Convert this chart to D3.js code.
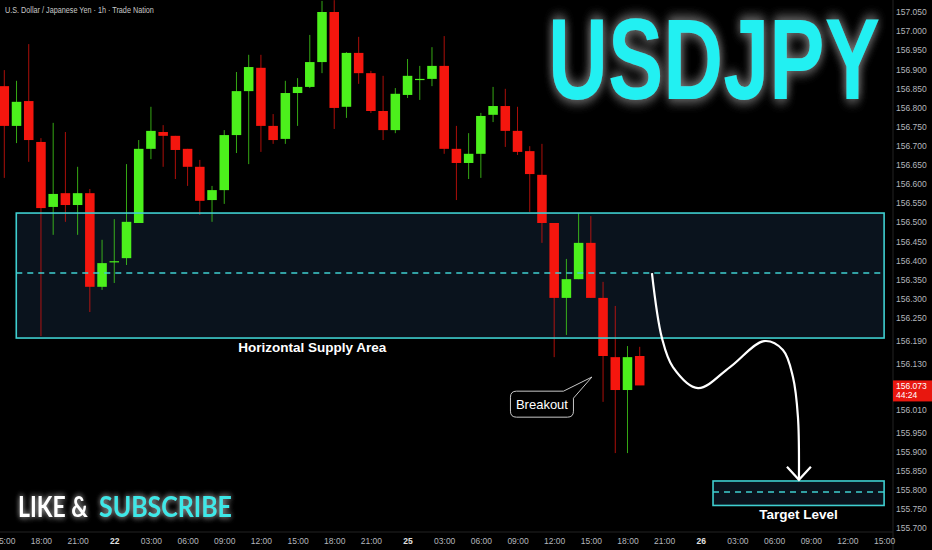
<!DOCTYPE html>
<html><head><meta charset="utf-8">
<script src="https://cdn.jsdelivr.net/npm/d3@7"></script>
<style>html,body{margin:0;padding:0;background:#000;overflow:hidden}</style>
</head><body><svg id="c" width="932" height="550"></svg>
<script>
// ---- data (USDJPY 1h candles, index 0 = 21st 15:00) ----
const open  = [156.856,156.752,156.817,156.710,156.540,156.576,156.545,156.576,156.331,156.396,156.406,156.498,156.692,156.736,156.726,156.692,156.645,156.558,156.584,156.728,156.843,156.904,156.752,156.718,156.838,156.854,156.919,157.050,156.802,156.943,156.890,156.791,156.741,156.833,156.872,156.875,156.909,156.692,156.655,156.679,156.781,156.804,156.739,156.686,156.624,156.498,156.302,156.351,156.446,156.302,156.147,156.061,156.150];
const high  = [156.898,156.870,156.966,156.720,156.760,156.736,156.645,156.587,156.454,156.508,156.652,156.715,156.802,156.754,156.726,156.692,156.663,156.595,156.741,156.893,156.938,156.938,156.783,156.870,156.877,156.990,157.079,157.081,156.945,156.985,156.896,156.883,156.851,156.927,156.909,156.958,156.987,156.752,156.733,156.786,156.854,156.849,156.802,156.699,156.705,156.498,156.404,156.524,156.516,156.344,156.281,156.176,156.174];
const low   = [156.616,156.707,156.658,156.202,156.467,156.501,156.467,156.265,156.323,156.341,156.388,156.498,156.665,156.645,156.613,156.595,156.519,156.501,156.548,156.681,156.652,156.684,156.705,156.705,156.752,156.851,156.890,156.744,156.773,156.862,156.786,156.715,156.733,156.825,156.820,156.856,156.679,156.558,156.613,156.616,156.762,156.697,156.676,156.527,156.446,156.147,156.205,156.351,156.302,156.030,155.896,155.896,156.074];
const close = [156.752,156.815,156.715,156.537,156.574,156.545,156.576,156.331,156.393,156.398,156.501,156.692,156.739,156.726,156.689,156.645,156.556,156.584,156.728,156.843,156.906,156.752,156.715,156.838,156.854,156.919,157.050,156.799,156.943,156.890,156.791,156.741,156.836,156.883,156.875,156.909,156.692,156.655,156.679,156.778,156.804,156.739,156.684,156.626,156.498,156.302,156.351,156.446,156.302,156.150,156.061,156.147,156.073];

const xTickIndex  = [0,3,6,9,12,15,18,21,24,27,30,33,36,39,42,45,48,51,54,57,60,63,66,69,72];
const xTickLabels = ["15:00","18:00","21:00","22","03:00","06:00","09:00","12:00","15:00","18:00","21:00","25","03:00","06:00","09:00","12:00","15:00","18:00","21:00","26","03:00","06:00","09:00","12:00","15:00"];
const yTickValues = [157.05,157.0,156.95,156.9,156.85,156.8,156.75,156.7,156.65,156.6,156.55,156.5,156.45,156.4,156.35,156.3,156.25,156.19,156.13,156.01,155.95,155.9,155.85,155.8,155.75,155.7];

const supplyZone = {x0:0.98, x1:72, top:156.524, bottom:156.197, mid:156.367};
const targetZone = {x0:58.0, x1:72, top:155.823, bottom:155.759, mid:155.794};
const pathIndex = [53.0,53.82,54.72,56.77,59.39,62.17,63.72,64.54,64.95,65.03];
const pathPrice = [156.367,156.197,156.121,156.066,156.121,156.189,156.166,156.095,155.990,155.826];
const breakoutAnchor = {i:48.09, p:156.095};
const breakoutLabel = {i:44.0, p:156.024};
const lastTimer = "44:24";

// ---- scales ----
const W = 932, H = 550, plotR = 893, axisY = 532;
const x = d3.scaleLinear().domain([0,72]).range([4.3,884.1]);
const y = d3.scaleLinear().domain([155.7,157.05]).range([528,12]);
const svg = d3.select('#c');
const GREEN = '#4cf01c', RED = '#f5160e', TEAL = '#3fcfd0';
const FONT = 'Liberation Sans, Arial, sans-serif';

const defs = svg.append('defs');
function glow(id, color, sd, op){
  const f = defs.append('filter').attr('id',id).attr('x','-30%').attr('y','-60%').attr('width','160%').attr('height','220%');
  f.append('feGaussianBlur').attr('in','SourceAlpha').attr('stdDeviation',sd).attr('result','b');
  f.append('feFlood').attr('flood-color',color).attr('flood-opacity',op);
  f.append('feComposite').attr('in2','b').attr('operator','in').attr('result','g');
  const m = f.append('feMerge');
  m.append('feMergeNode').attr('in','g');
  m.append('feMergeNode').attr('in','g');
  m.append('feMergeNode').attr('in','SourceGraphic');
}
glow('glowGray','#8a8a8a',7,0.75);
glow('glowWhite','#bbbbbb',3,0.6);

svg.append('rect').attr('width',W).attr('height',H).attr('fill','#000');

// zone fills
const zones = [supplyZone, targetZone];
svg.selectAll('rect.zf').data(zones).join('rect').attr('class','zf')
  .attr('x',d=>x(d.x0)).attr('width',d=>x(d.x1)-x(d.x0))
  .attr('y',d=>y(d.top)).attr('height',d=>y(d.bottom)-y(d.top))
  .attr('fill','#0a131d');

// candles
const idx = d3.range(open.length);
const bw = (x(1)-x(0))*0.78;
const col = i => close[i] >= open[i] ? GREEN : RED;
svg.selectAll('line.wick').data(idx).join('line').attr('class','wick')
  .attr('x1',i=>x(i)).attr('x2',i=>x(i)).attr('y1',i=>y(high[i])).attr('y2',i=>y(low[i]))
  .attr('stroke',col).attr('stroke-width',1).attr('stroke-opacity',0.7);
svg.selectAll('rect.body').data(idx).join('rect').attr('class','body')
  .attr('x',i=>x(i)-bw/2).attr('width',bw)
  .attr('y',i=>y(Math.max(open[i],close[i])))
  .attr('height',i=>Math.max(1.2, Math.abs(y(open[i])-y(close[i]))))
  .attr('fill',col);

// zone outlines and midlines
svg.selectAll('rect.zs').data(zones).join('rect').attr('class','zs')
  .attr('x',d=>x(d.x0)).attr('width',d=>x(d.x1)-x(d.x0))
  .attr('y',d=>y(d.top)).attr('height',d=>y(d.bottom)-y(d.top))
  .attr('fill','none').attr('stroke',TEAL).attr('stroke-width',1.6);
svg.selectAll('line.zm').data(zones).join('line').attr('class','zm')
  .attr('x1',d=>x(d.x0)).attr('x2',d=>x(d.x1)).attr('y1',d=>y(d.mid)).attr('y2',d=>y(d.mid))
  .attr('stroke',TEAL).attr('stroke-width',1.4).attr('stroke-dasharray','6,5');

// projection path
const pts = pathIndex.map((v,k)=>[v,pathPrice[k]]);
svg.append('path').attr('d', d3.line().x(d=>x(d[0])).y(d=>y(d[1])).curve(d3.curveCatmullRom.alpha(0.5))(pts))
  .attr('fill','none').attr('stroke','#fff').attr('stroke-width',2.2);
const tip = pts[pts.length-1];
const ah = [[tip[0]-0.98, tip[1]+0.034],[tip[0],tip[1]],[tip[0]+0.98, tip[1]+0.034]];
svg.append('path').attr('d', d3.line().x(d=>x(d[0])).y(d=>y(d[1]))(ah))
  .attr('fill','none').attr('stroke','#fff').attr('stroke-width',2.2).attr('stroke-linejoin','miter');

// labels
svg.append('text').attr('x',x(25.2)).attr('y',y(supplyZone.bottom)+10).attr('text-anchor','middle')
  .attr('dominant-baseline','middle').attr('fill','#fff').attr('font-family',FONT)
  .attr('font-weight','bold').attr('font-size',13.5).text('Horizontal Supply Area');
svg.append('text').attr('x',x((targetZone.x0+targetZone.x1)/2)).attr('y',y(targetZone.bottom)+10).attr('text-anchor','middle')
  .attr('dominant-baseline','middle').attr('fill','#fff').attr('font-family',FONT)
  .attr('font-weight','bold').attr('font-size',13.5).text('Target Level');

// breakout callout
const bx = x(breakoutLabel.i), by = y(breakoutLabel.p), ax = x(breakoutAnchor.i), ay = y(breakoutAnchor.p);
const bwid = 63, bh = 26, l = bx-bwid/2, t = by-bh/2, r = bx+bwid/2, b = by+bh/2, rr = 6;
const cp = d3.path();
cp.moveTo(l+rr,t); cp.lineTo(r-10,t); cp.lineTo(ax,ay); cp.lineTo(r,t+7); cp.lineTo(r,b-rr);
cp.quadraticCurveTo(r,b,r-rr,b); cp.lineTo(l+rr,b); cp.quadraticCurveTo(l,b,l,b-rr);
cp.lineTo(l,t+rr); cp.quadraticCurveTo(l,t,l+rr,t); cp.closePath();
svg.append('path').attr('d',cp.toString()).attr('fill','#000').attr('stroke','#c8c8c8').attr('stroke-width',1);
svg.append('text').attr('x',bx).attr('y',by+1).attr('text-anchor','middle').attr('dominant-baseline','middle')
  .attr('fill','#fff').attr('font-family',FONT).attr('font-size',13).text('Breakout');

// axes separators
svg.append('line').attr('x1',plotR).attr('x2',plotR).attr('y1',0).attr('y2',H).attr('stroke','#222');
svg.append('line').attr('x1',0).attr('x2',plotR).attr('y1',axisY).attr('y2',axisY).attr('stroke','#222');

// right axis
const yAxis = d3.axisRight(y).tickValues(yTickValues).tickFormat(d3.format('.3f')).tickSize(0).tickPadding(3);
const ya = svg.append('g').attr('transform',`translate(${plotR},0)`).call(yAxis);
ya.select('.domain').remove();
ya.selectAll('text').attr('fill','#b4b6bc').attr('font-family',FONT).attr('font-size',8.5);

// price label
const lp = close[close.length-1], ly = y(lp);
svg.append('rect').attr('x',plotR).attr('y',ly-5).attr('width',W-plotR).attr('height',21).attr('fill','#e8170f');
svg.append('text').attr('x',plotR+3).attr('y',ly+1).attr('dominant-baseline','middle').attr('fill','#fff')
  .attr('font-family',FONT).attr('font-size',8.5).text(d3.format('.3f')(lp));
svg.append('text').attr('x',plotR+3).attr('y',ly+10.5).attr('dominant-baseline','middle').attr('fill','#fff')
  .attr('font-family',FONT).attr('font-size',8.5).text(lastTimer);

// bottom axis
const xAxis = d3.axisBottom(x).tickValues(xTickIndex).tickFormat((d,k)=>xTickLabels[k]).tickSize(0).tickPadding(6);
const xa = svg.append('g').attr('transform',`translate(0,${axisY})`).call(xAxis);
xa.select('.domain').remove();
xa.selectAll('text').attr('font-family',FONT).attr('font-size',8.5)
  .attr('font-weight',(d,k)=>xTickLabels[k].length<=2?'bold':'normal')
  .attr('fill',(d,k)=>xTickLabels[k].length<=2?'#e0e0e0':'#b4b6bc');

// fit-width text helper (uses a transform so the box matches the drawn text)
function fitText(txt, x0, yBase, size, width, opts){
  const g = svg.append('g');
  const t = g.append('text').attr('x',0).attr('y',0).attr('font-family',opts.font).attr('font-size',size)
    .attr('font-weight',opts.weight||'normal').attr('fill',opts.fill).text(txt);
  if (opts.filter) t.attr('filter',opts.filter);
  const len = t.node().getComputedTextLength();
  g.attr('transform',`translate(${x0},${yBase}) scale(${width/len},1)`);
  return g;
}

// title
fitText('U.S. Dollar / Japanese Yen · 1h · Trade Nation', 5, 13, 8.3, 149, {font:FONT, fill:'#c8c8c8'});

// big symbol
fitText('USDJPY', 548, 99, 115, 332, {font:FONT, weight:'bold', fill:'#22f0f2', filter:'url(#glowGray)'});

// like & subscribe
fitText('LIKE &', 18, 517, 28, 70, {font:'Lato, sans-serif', weight:'bold', fill:'#fff', filter:'url(#glowWhite)'});
fitText('SUBSCRIBE', 99, 517, 28, 133, {font:'Lato, sans-serif', weight:'bold', fill:'#3ee8e8', filter:'url(#glowWhite)'});
</script></body></html>
